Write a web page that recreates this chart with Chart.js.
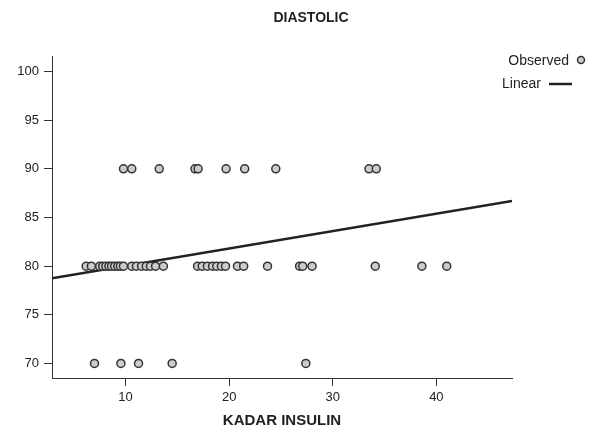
<!DOCTYPE html>
<html>
<head>
<meta charset="utf-8">
<script src="https://cdn.jsdelivr.net/npm/chart.js@4"></script>
<style>
  html, body { margin: 0; padding: 0; background: #fff; }
  #wrap { width: 591px; height: 430px; }
</style>
</head>
<body>
<div id="wrap"><canvas id="c" width="591" height="430"></canvas></div>
<script>
// Observed points (KADAR INSULIN vs DIASTOLIC)
const insulin = [
  7.0, 9.55, 11.25, 14.5, 27.4,
  9.8, 10.6, 13.25, 16.7, 17.0, 19.7, 21.5, 24.5, 33.5, 34.2,
  6.2, 6.7, 7.5, 7.8, 8.1, 8.4, 8.65, 8.95, 9.25, 9.5, 9.8, 10.6, 11.05, 11.55,
  12.0, 12.4, 12.9, 13.65, 16.95, 17.4, 17.9, 18.4, 18.8, 19.25, 19.65, 20.8,
  21.4, 23.7, 26.8, 27.1, 28.0, 34.1, 38.6, 41.0
];
const diastolic = [
  70, 70, 70, 70, 70,
  90, 90, 90, 90, 90, 90, 90, 90, 90, 90,
  80, 80, 80, 80, 80, 80, 80, 80, 80, 80, 80, 80, 80, 80,
  80, 80, 80, 80, 80, 80, 80, 80, 80, 80, 80, 80,
  80, 80, 80, 80, 80, 80, 80, 80
];
// Linear fit line endpoints
const fitX = [2.9, 47.3];
const fitY = [78.75, 86.7];
// Tick labels
const xTicks = [10, 20, 30, 40];
const yTicks = [70, 75, 80, 85, 90, 95, 100];
const titleText = 'DIASTOLIC';
const xTitle = 'KADAR INSULIN';
const legendLabels = ['Observed', 'Linear'];

const observed = insulin.map((x, i) => ({ x: x, y: diastolic[i] }));
const linear = fitX.map((x, i) => ({ x: x, y: fitY[i] }));

const FONT = '"Liberation Sans", Arial, Helvetica, sans-serif';
const TXT = '#222';

const overlay = {
  id: 'overlay',
  afterDraw(chart) {
    const ctx = chart.ctx;
    ctx.save();
    ctx.fillStyle = TXT;
    ctx.font = 'bold 14px ' + FONT;
    ctx.textAlign = 'center';
    ctx.textBaseline = 'middle';
    ctx.fillText(titleText, 311, 18);
    // legend
    ctx.font = '14px ' + FONT;
    ctx.textAlign = 'right';
    ctx.fillText(legendLabels[0], 569, 61);
    ctx.fillText(legendLabels[1], 541, 84);
    ctx.beginPath();
    ctx.arc(581, 60, 3.5, 0, Math.PI * 2);
    ctx.fillStyle = '#cccccc';
    ctx.fill();
    ctx.lineWidth = 1.5;
    ctx.strokeStyle = '#333';
    ctx.stroke();
    ctx.beginPath();
    ctx.moveTo(549, 84);
    ctx.lineTo(572, 84);
    ctx.lineWidth = 2.5;
    ctx.strokeStyle = '#222';
    ctx.stroke();
    ctx.restore();
  }
};

new Chart(document.getElementById('c'), {
  type: 'scatter',
  data: {
    datasets: [
      {
        label: legendLabels[1],
        type: 'line',
        data: linear,
        borderColor: '#222',
        borderWidth: 2.5,
        pointRadius: 0,
        fill: false,
        order: 2
      },
      {
        label: legendLabels[0],
        data: observed,
        pointRadius: 4,
        pointHoverRadius: 4,
        backgroundColor: '#cccccc',
        borderColor: '#333',
        borderWidth: 1.5,
        order: 1
      }
    ]
  },
  options: {
    responsive: false,
    animation: false,
    events: [],
    layout: { padding: { top: 56, right: 79, bottom: 0, left: 0 } },
    plugins: { legend: { display: false }, title: { display: false }, tooltip: { enabled: false } },
    scales: {
      x: {
        type: 'linear',
        min: 2.9,
        max: 47.3,
        afterBuildTicks(s) { s.ticks = xTicks.map(v => ({ value: v })); },
        afterFit(s) { s.height = 52; },
        grid: { drawOnChartArea: false, drawTicks: true, tickLength: 8, color: '#333' },
        border: { display: true, color: '#333', width: 1 },
        ticks: { color: TXT, font: { family: FONT, size: 13 }, padding: 4, maxRotation: 0 },
        title: { display: true, text: xTitle, color: TXT, font: { family: FONT, size: 15, weight: 'bold' }, padding: { top: 6, bottom: 0 } }
      },
      y: {
        type: 'linear',
        min: 68.5,
        max: 101.6,
        afterBuildTicks(s) { s.ticks = yTicks.map(v => ({ value: v })); },
        afterFit(s) { s.width = 52; },
        grid: { drawOnChartArea: false, drawTicks: true, tickLength: 8, color: '#333' },
        border: { display: true, color: '#333', width: 1 },
        ticks: { color: TXT, font: { family: FONT, size: 13 }, padding: 5 }
      }
    }
  },
  plugins: [overlay]
});
</script>
</body>
</html>
